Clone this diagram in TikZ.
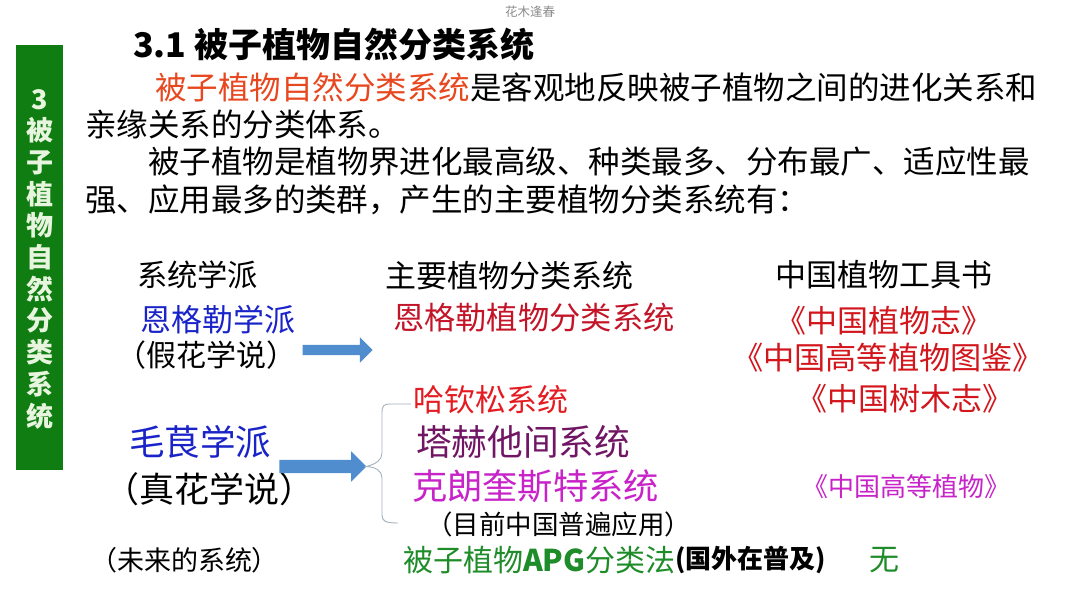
\documentclass[tikz,border=0pt]{standalone}
\usepackage{fontspec}
\newfontfamily\cjk{Noto Sans CJK SC}
\usetikzlibrary{shapes.arrows}
\newcommand\myfs[1]{\cjk\fontsize{#1}{#1}\selectfont}
\newcommand\myfsb[1]{\cjk\bfseries\fontsize{#1}{#1}\selectfont}
\definecolor{wm}{RGB}{140,140,140}
\definecolor{orred}{RGB}{232,72,32}
\definecolor{dred}{RGB}{195,20,40}
\definecolor{bred}{RGB}{210,22,28}
\definecolor{hred}{RGB}{228,28,34}
\definecolor{purp}{RGB}{112,22,100}
\definecolor{magen}{RGB}{200,35,200}
\definecolor{sblue}{RGB}{25,35,200}
\definecolor{sgreen}{RGB}{30,140,40}
\definecolor{bargreen}{RGB}{16,125,18}
\definecolor{bartext}{RGB}{232,245,222}
\definecolor{arrblue}{RGB}{79,141,207}
\definecolor{bracegray}{RGB}{165,178,192}
\begin{document}
\begin{tikzpicture}[x=1pt,y=-1pt,
  t/.style={anchor=west,inner sep=0pt,outer sep=0pt},
  blockarr/.style={single arrow,fill=arrblue,draw=none,inner xsep=0pt,outer sep=0pt},
  bracepath/.style={draw=bracegray,line width=0.9pt}]
\useasboundingbox[fill=white] (0,0) rectangle (1080,608);
% watermark
\node[t,font=\myfs{12.5},text=wm] (wm) at (505,12) {花木逢春};
% side bar
\node[fill=bargreen,minimum width=47pt,minimum height=425pt,inner sep=0pt] (bar) at (39.5,257.5) {};
\node[font=\cjk\bfseries\fontsize{27}{31.7}\selectfont,text=bartext,align=center,inner sep=0pt] (bartxt) at (39.5,259)
  {3\\被\\子\\植\\物\\自\\然\\分\\类\\系\\统};
% title and paragraph
\node[t,font=\myfsb{34}] (title) at (133,45) {3.1 被子植物自然分类系统};
\node[t,font=\myfs{31.5},text=orred] (l1a) at (155,87) {被子植物自然分类系统};
\node[t,font=\myfs{31.5}] (l1b) at (l1a.east) {是客观地反映被子植物之间的进化关系和};
\node[t,font=\myfs{31.5}] (l2) at (85,125) {亲缘关系的分类体系。};
\node[t,font=\myfs{31.5}] (l3) at (148,162) {被子植物是植物界进化最高级、种类最多、分布最广、适应性最};
\node[t,font=\myfs{31.5}] (l4) at (85,200) {强、应用最多的类群，产生的主要植物分类系统有：};
% headers
\node[t,font=\myfs{30.3}] (h1) at (137,275) {系统学派};
\node[t,font=\myfs{31}] (h2) at (385,276) {主要植物分类系统};
\node[t,font=\myfs{31}] (h3) at (775,275) {中国植物工具书};
% schools
\node[t,font=\myfs{31},text=sblue] (eng) at (140,320) {恩格勒学派};
\node[t,font=\myfs{30}] (jia) at (116,355) {（假花学说）};
\node[t,font=\myfs{35.5},text=sblue] (mao) at (129,442) {毛茛学派};
\node[t,font=\myfs{35}] (zhen) at (104,489) {（真花学说）};
\node[t,font=\myfs{27}] (wei) at (90,560) {（未来的系统）};
% systems
\node[t,font=\myfs{31.3},text=dred] (engsys) at (393,318) {恩格勒植物分类系统};
\node[t,font=\myfs{31},text=hred] (hut) at (413,400) {哈钦松系统};
\node[t,font=\myfs{35.7},text=purp] (takh) at (416,442) {塔赫他间系统};
\node[t,font=\myfs{35.3},text=magen] (cron) at (412,486) {克朗奎斯特系统};
\node[t,font=\myfs{26.5}] (cronnote) at (426,524) {（目前中国普遍应用）};
\node[t,font=\myfs{30},text=sgreen] (apg) at (403,560) {被子植物\textbf{APG}分类法};
\node[t,font=\myfsb{26}] (apgnote) at (apg.east) {(国外在普及)};
% books
\node[t,font=\myfs{31},text=bred] (b1) at (775,321) {《中国植物志》};
\node[t,font=\myfs{31.2},text=bred] (b2) at (732,358) {《中国高等植物图鉴》};
\node[t,font=\myfs{31},text=bred] (b3) at (796,399) {《中国树木志》};
\node[t,font=\myfs{26},text=magen] (b4) at (802,487) {《中国高等植物》};
\node[t,font=\myfs{30},text=sgreen] (wu) at (869,560) {无};
% arrows
\node[blockarr,inner ysep=5pt,single arrow head extend=7.5pt,minimum height=70pt] (arr1) at (335,350) {};
\node[blockarr,inner ysep=6.5pt,single arrow head extend=8.5pt,minimum height=87pt] (arr2) at (319.5,466.5) {};
% brace
\coordinate (bt) at (411,404);
\coordinate (bb) at (398,523);
\draw[bracepath] (bt) -- (390,404) .. controls (383.5,404) and (382,406) .. (382,413)
  -- (382,453) .. controls (382,460) and (376,464) .. (arr2.tip)
  .. controls (376,467) and (382,471) .. (382,478)
  -- (382,515) .. controls (382,521) and (385,523) .. (bb);
\end{tikzpicture}
\end{document}
